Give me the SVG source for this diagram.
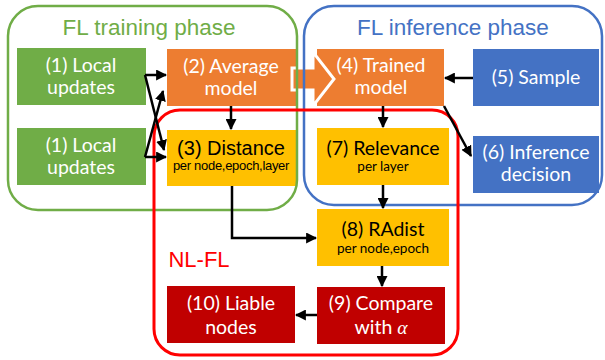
<svg xmlns="http://www.w3.org/2000/svg" width="605" height="360" viewBox="0 0 605 360">
<defs>
<style>
.n{font-family:Lato,"Open Sans","Liberation Sans",sans-serif;font-size:19.5px;fill:#fff;text-anchor:middle}
.k{font-family:Lato,"Open Sans","Liberation Sans",sans-serif;font-size:19.5px;fill:#000;text-anchor:middle}
.ks{font-family:Lato,"Open Sans","Liberation Sans",sans-serif;font-size:13.5px;fill:#000;text-anchor:middle}
.a{font-family:"Liberation Sans",Arial,sans-serif;text-anchor:middle}
.c{stroke:#000;stroke-width:2.5;fill:none;marker-end:url(#ah)}
</style>
<marker id="ah" viewBox="0 0 10 10" refX="9" refY="5" markerWidth="4.4" markerHeight="4.4" markerUnits="strokeWidth" orient="auto">
<path d="M0,0 L10,5 L0,10 Z" fill="#000"/>
</marker>
</defs>
<rect width="605" height="360" fill="#fff"/>

<g id="n1a"><rect x="17" y="48" width="129" height="57" fill="#70AD47"/><text class="n" x="81" y="72">(1) Local</text><text class="n" x="81" y="94">updates</text></g>
<g id="n1b"><rect x="17" y="128" width="129" height="57" fill="#70AD47"/><text class="n" x="81" y="152">(1) Local</text><text class="n" x="81" y="174">updates</text></g>
<g id="n2"><rect x="167" y="49" width="129" height="57" fill="#ED7D31"/><text class="n" x="231" y="73">(2) Average</text><text class="n" x="231" y="95">model</text></g>
<g id="n3"><rect x="167" y="130" width="129" height="56" fill="#FFC000"/><text class="a" x="231" y="155" font-size="20">(3) Distance</text><text class="a" x="231" y="170" font-size="13" letter-spacing="-0.3">per node,epoch,layer</text></g>
<g id="n4"><rect x="317" y="49" width="127" height="57" fill="#ED7D31"/><text class="n" x="381" y="72">(4) Trained</text><text class="n" x="381" y="94">model</text></g>
<g id="n5"><rect x="473" y="49" width="126" height="57" fill="#4472C4"/><text class="n" x="536" y="84">(5) Sample</text></g>
<g id="n6"><rect x="473" y="136" width="126" height="57" fill="#4472C4"/><text class="n" x="536" y="159">(6) Inference</text><text class="n" x="536" y="181">decision</text></g>
<g id="n7"><rect x="317" y="128" width="132" height="57" fill="#FFC000"/><text class="k" x="383" y="155">(7) Relevance</text><text class="ks" x="383" y="171">per layer</text></g>
<g id="n8"><rect x="317" y="209" width="132" height="57" fill="#FFC000"/><text class="k" x="383" y="236">(8) RAdist</text><text class="ks" x="383" y="253">per node,epoch</text></g>
<g id="n9"><rect x="317" y="287" width="128" height="57" fill="#C00000"/><text class="n" x="381" y="310">(9) Compare</text><text class="n" x="381" y="334">with <tspan font-family="'Liberation Serif',serif" font-style="italic">α</tspan></text></g>
<g id="n10"><rect x="167" y="286" width="128" height="57" fill="#C00000"/><text class="n" x="231" y="310">(10) Liable</text><text class="n" x="231" y="334">nodes</text></g>

<g id="bigarrow"><path d="M292,68 H313 V52 L334,79 L313,106 V90 H292 Z" fill="#ED7D31" stroke="#fff" stroke-width="3"/></g>

<g id="training"><rect x="8" y="6" width="289" height="204" rx="30" fill="none" stroke="#70AD47" stroke-width="2.5"/><text class="a" x="149" y="35" font-size="22.5" fill="#70AD47">FL training phase</text></g>
<g id="inference"><rect x="304" y="6" width="298" height="199" rx="30" fill="none" stroke="#4472C4" stroke-width="2.5"/><text class="a" x="453" y="35" font-size="22.5" fill="#4472C4">FL inference phase</text></g>
<g id="nlfl"><rect x="154" y="110" width="304" height="245" rx="26" fill="none" stroke="#FF0000" stroke-width="3"/><text class="a" x="199" y="267" font-size="22" fill="#FF0000">NL-FL</text></g>

<g id="connectors">
<path class="c" d="M145,75 H166"/>
<path class="c" d="M145,75 L164,150"/>
<path class="c" d="M145,157 H166"/>
<path class="c" d="M145,157 L163,91"/>
<path class="c" d="M231,106 V129"/>
<path class="c" d="M232,186 V238 H316"/>
<path class="c" d="M383,106 V127"/>
<path class="c" d="M383,185 V208"/>
<path class="c" d="M382,266 V286"/>
<path class="c" d="M317,315 H296"/>
<path class="c" d="M473,78 H445"/>
<path class="c" d="M444,106 L471,156"/>
</g>
</svg>
